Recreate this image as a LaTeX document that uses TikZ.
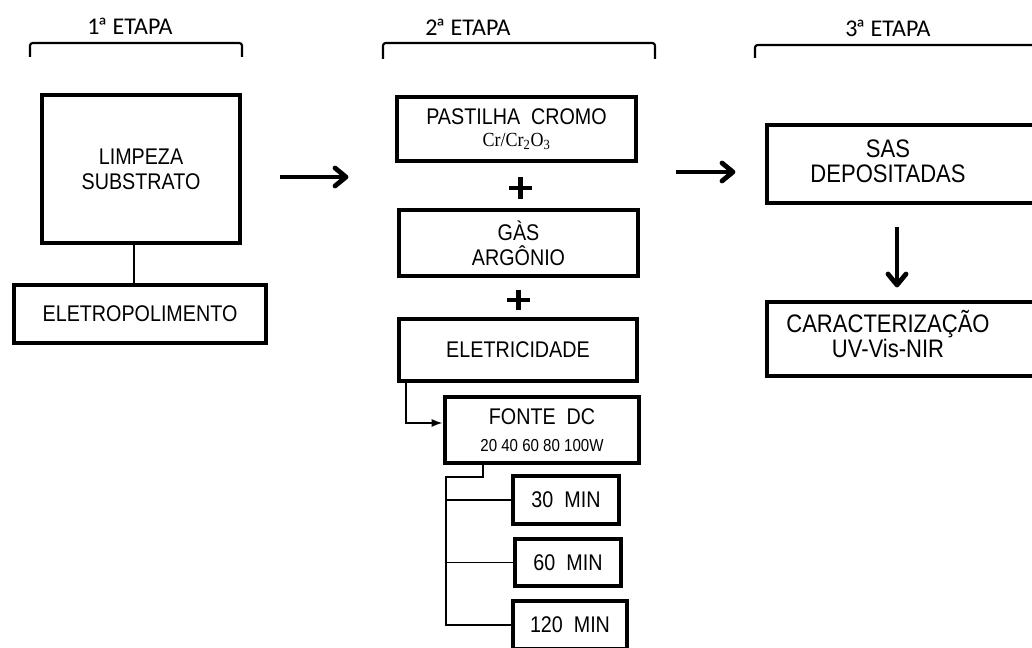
\documentclass[tikz,border=0pt]{standalone}
\usepackage{fontspec}
\setmainfont{Liberation Sans}
\newfontfamily\boxfont{Liberation Sans}[FakeStretch=0.87]
\newfontfamily\hdfont{Carlito}
\newfontfamily\serfont{Liberation Serif}[FakeStretch=0.9]
\usetikzlibrary{arrows.meta,calc}
\tikzset{
  bx/.style={draw, line width=3pt, inner sep=0pt, outer sep=0pt, align=center,
    font=\boxfont\fontsize{17pt}{19pt}\selectfont},
  btxt/.style={inner sep=0pt, align=center, font=\boxfont\fontsize{19pt}{19pt}\selectfont},
  hd/.style={inner sep=0pt, font=\hdfont\fontsize{18pt}{20pt}\selectfont},
  brk/.style={line width=1.6pt, rounded corners=2pt},
  thin/.style={line width=1.1pt},
  shaft/.style={line width=3pt},
  chev/.style={line width=3.6pt, line cap=round, line join=round},
  plus/.style={line width=3.6pt}
}
\begin{document}
\begin{tikzpicture}[x=0.75pt,y=-0.75pt]
\useasboundingbox (0,0) rectangle (1032,648);
\clip (0,0) rectangle (1032,648);
\fill[white] (0,0) rectangle (1032,648);

% headers
\node[hd] (hd1) at (130,26) {1\kern-1.5ptª ETAPA};
\node[hd] (hd2) at (468,27) {2\kern-1.5ptª ETAPA};
\node[hd] (hd3) at (888,28) {3\kern-1.5ptª ETAPA};
\draw[brk] (30,57) -- (30,43) -- (242,43) -- (242,57);
\draw[brk] (383,59) -- (383,43) -- (655,43) -- (655,59);
\draw[brk] (755,58) -- (755,45) -- (1040,45);

% stage 1
\node[bx, minimum width=148.5pt, minimum height=111pt] (limp) at (141,169) {LIMPEZA\\SUBSTRATO};
\node[bx, minimum width=189pt, minimum height=43.5pt] (elet) at (140,314) {ELETROPOLIMENTO};
\draw[thin] ([xshift=-5.25pt]limp.south) -- ([xshift=-5.25pt]limp.south |- elet.north);

% arrow 1
\coordinate (a1s) at (280,177);
\coordinate (a1e) at (346,177);
\draw[shaft] (a1s) -- (a1e);
\draw[chev] ([shift={(-11,-9)}]a1e) -- (a1e) -- ([shift={(-11,9)}]a1e);

% stage 2
\node[bx, minimum width=179.25pt, minimum height=48pt] (past) at (516.5,129)
  {PASTILHA\ \ CROMO\\[-2pt]{\serfont\fontsize{15pt}{15pt}\selectfont Cr/Cr\textsubscript{2}O\textsubscript{3}}};
\draw[plus] (509,188) -- (532,188);
\draw[plus] (520.5,177) -- (520.5,199);
\node[bx, minimum width=179.25pt, minimum height=49.5pt] (gas) at (518.5,243) {GÀS\\ARGÔNIO};
\draw[plus] (507,300) -- (530,300);
\draw[plus] (518.5,290) -- (518.5,310);
\node[bx, minimum width=178.5pt, minimum height=46.5pt] (eletr) at (518,350) {ELETRICIDADE};
\node[bx, minimum width=145.5pt, minimum height=49.5pt] (fonte) at (542,430)
  {FONTE\ \ DC\\[1pt]{\fontsize{13pt}{15pt}\selectfont 20 40 60 80 100W}};
\draw[thin, -{Latex[length=8pt,width=6pt]}] ([xshift=-84pt]eletr.south) |- ([yshift=5.25pt,xshift=-2pt]fonte.west);

\node[bx, minimum width=79.5pt, minimum height=36pt] (m30) at (566,500) {30\ \ MIN};
\node[bx, minimum width=79.5pt, minimum height=35.25pt] (m60) at (568,562.5) {60\ \ MIN};
\node[bx, minimum width=85.5pt, minimum height=36pt] (m120) at (570,625) {120\ \ MIN};
\coordinate (jt) at (446,477);
\draw[thin] ([xshift=-44.25pt]fonte.south) |- (jt) -- (jt |- m120.west) -- (m120.west);
\draw[thin] (jt |- m30.west) -- (m30.west);
\draw[thin] (jt |- m60.west) -- (m60.west);

% arrow 2
\coordinate (a2s) at (676,172);
\coordinate (a2e) at (733,172);
\draw[shaft] (a2s) -- (a2e);
\draw[chev] ([shift={(-11,-9)}]a2e) -- (a2e) -- ([shift={(-11,9)}]a2e);

% stage 3
\node[bx, minimum width=218.25pt, minimum height=58.5pt] (sas) at (912,164) {};
\node[btxt] (sastxt) at (888,161) {SAS\\DEPOSITADAS};
\node[bx, minimum width=218.25pt, minimum height=55.5pt] (car) at (912,339) {};
\node[btxt] (cartxt) at (888,334) {CARACTERIZAÇÃO\\UV-Vis-NIR};
\coordinate (d1s) at ([xshift=-11.25pt,yshift=-18pt]sas.south);
\coordinate (d1e) at ([xshift=-11.25pt,yshift=12.75pt]car.north);
\draw[shaft] (d1s) -- (d1e);
\draw[chev] ([shift={(-9,-11)}]d1e) -- (d1e) -- ([shift={(9,-11)}]d1e);
\end{tikzpicture}
\end{document}
